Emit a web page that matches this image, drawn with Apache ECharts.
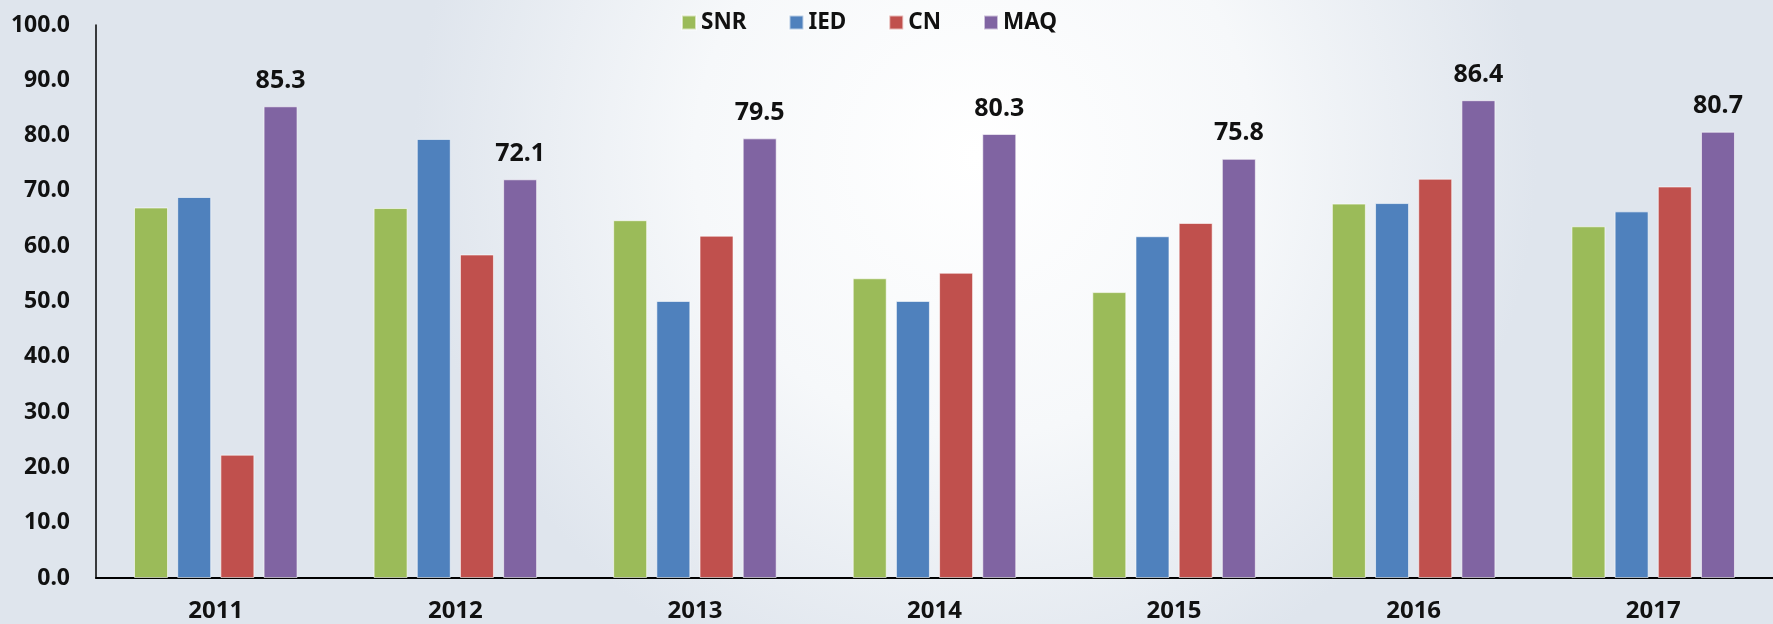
<!DOCTYPE html>
<html>
<head>
<meta charset="utf-8">
<script src="https://cdn.jsdelivr.net/npm/echarts@6/dist/echarts.min.js"></script>
<style>
html,body{margin:0;padding:0;width:1773px;height:624px;overflow:hidden;}
#c{width:1773px;height:624px;}
</style>
</head>
<body>
<div id="c"></div>
<script>
const categories = ['2011','2012','2013','2014','2015','2016','2017'];
const seriesNames = ['SNR','IED','CN','MAQ'];
const snr = [67.0, 66.9, 64.7, 54.2, 51.7, 67.7, 63.6];
const ied = [68.9, 79.4, 50.1, 50.1, 61.8, 67.8, 66.3];
const cn  = [22.3, 58.5, 61.9, 55.2, 64.2, 72.2, 70.8];
const maq = [85.3, 72.1, 79.5, 80.3, 75.8, 86.4, 80.7];
const yTicks = {min: 0, max: 100, interval: 10};
const colors = ['#9BBB59','#4F81BD','#C0504D','#8064A2'];

const font = '"Noto Sans", "Open Sans", sans-serif';
const values = [snr, ied, cn, maq];

const chart = echarts.init(document.getElementById('c'));
chart.setOption({
  backgroundColor: {
    type: 'radial', x: 0.55, y: 0.25, r: 0.9,
    colorStops: [
      {offset: 0, color: '#ffffff'},
      {offset: 0.5, color: '#f6f8fa'},
      {offset: 1, color: '#dfe5ed'}
    ]
  },
  textStyle: {fontFamily: font},
  legend: {
    data: seriesNames,
    left: 676, top: 6,
    itemWidth: 14, itemHeight: 14, itemGap: 42,
    icon: 'rect',
    textStyle: {fontSize: 22.5, fontWeight: 'bold', color: '#111', fontFamily: font}
  },
  grid: {left: 96, right: 0, top: 25, bottom: 46, containLabel: false},
  xAxis: {
    type: 'category', data: categories,
    axisLine: {lineStyle: {color: '#000', width: 2}},
    axisTick: {show: false},
    axisLabel: {fontSize: 24, fontWeight: 'bold', color: '#111', margin: 21, fontFamily: font},
    splitLine: {show: false}
  },
  yAxis: {
    type: 'value', min: yTicks.min, max: yTicks.max, interval: yTicks.interval,
    axisLine: {show: true, lineStyle: {color: '#000', width: 1.5}},
    axisTick: {show: false},
    splitLine: {show: false},
    axisLabel: {fontSize: 23, fontWeight: 'bold', color: '#111', margin: 26, fontFamily: font,
      formatter: v => v.toFixed(1)}
  },
  series: seriesNames.map((n, i) => ({
    name: n, type: 'bar', data: values[i],
    barWidth: 34, barGap: '27%',
    itemStyle: {color: colors[i], borderColor: 'rgba(255,255,255,0.6)', borderWidth: 1},
    label: i === 3 ? {show: true, position: 'top', distance: 13, fontSize: 25, fontWeight: 'bold', color: '#111', fontFamily: font,
      formatter: p => p.value.toFixed(1)} : {show: false},
    emphasis: {disabled: true}
  })),
  animation: false
});
</script>
</body>
</html>
